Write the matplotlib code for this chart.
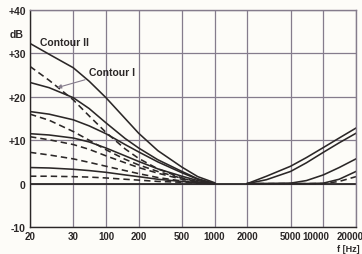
import numpy as np
import matplotlib
matplotlib.use('Agg')
import matplotlib.pyplot as plt
from matplotlib.transforms import ScaledTranslation

# frequency sample points (Hz)
freqs_low = [20, 30, 50, 70, 100, 150, 200, 300, 500, 700, 1000]
freqs_high = [2000, 3000, 5000, 7000, 10000, 14000, 20000]

# low-frequency boost curves (dB)
contour2 = [32.3, 29.8, 26.7, 23.6, 19.8, 15.0, 11.6, 7.6, 3.8, 1.6, 0.2]
low_solid = [
    [23.3, 22.1, 19.8, 17.3, 14.0, 10.4, 8.2, 5.5, 2.8, 1.1, 0.0],
    [16.6, 16.0, 14.7, 13.3, 11.5, 9.0, 7.3, 5.0, 2.5, 1.0, 0.0],
    [11.5, 11.2, 10.5, 9.6, 8.2, 6.4, 5.1, 3.4, 1.7, 0.7, 0.0],
    [3.7, 3.6, 3.3, 3.0, 2.6, 2.0, 1.6, 1.0, 0.5, 0.2, 0.0],
]
low_dashed = [
    [27.0, 23.8, 19.3, 15.6, 11.8, 8.0, 5.8, 3.4, 1.3, 0.4, 0.0],
    [16.0, 14.6, 12.0, 10.0, 7.8, 5.6, 4.3, 2.8, 1.2, 0.4, 0.0],
    [10.8, 10.1, 9.0, 7.9, 6.4, 4.8, 3.7, 2.4, 1.0, 0.3, 0.0],
    [7.2, 6.6, 5.7, 4.9, 4.0, 3.0, 2.3, 1.4, 0.6, 0.2, 0.0],
    [1.7, 1.7, 1.6, 1.5, 1.3, 1.0, 0.8, 0.5, 0.3, 0.1, 0.0],
]

# high-frequency boost curves (dB)
high_solid = [
    [0.0, 1.7, 4.0, 6.0, 8.3, 10.5, 12.8],
    [0.0, 0.9, 2.8, 4.8, 7.2, 9.4, 11.6],
    [0.0, 0.0, 0.1, 0.7, 2.0, 3.7, 5.7],
    [0.0, 0.0, 0.0, 0.0, 0.1, 1.0, 2.8],
]
high_dashed = [
    [0.0, 0.0, 0.0, 0.0, 0.0, 0.5, 1.6],
]

flat_freqs = [20, 20000]
flat_vals = [0, 0]

xticks = [20, 50, 100, 200, 500, 1000, 2000, 5000, 10000, 20000]
xlabels = ['20', '30', '100', '200', '500', '1000', '2000', '5000', '10000', '20000']
yticks = [-10, 0, 10, 20, 30, 40]
ylabels = ['-10', '0', '+10', '+20', '+30', '+40']

ink = '#2b2727'
grid_col = '#857c8c'
paper = '#fdfcf8'
font = ['Liberation Sans', 'DejaVu Sans']

fig = plt.figure(figsize=(3.62, 2.55), dpi=100)
fig.set_facecolor(paper)
ax = fig.add_axes([30 / 362, 1 - 228 / 255, 326 / 362, 217 / 255])
ax.set_facecolor(paper)

ax.set_xscale('log')
ax.set_xlim(20, 20000)
ax.set_ylim(-10, 40)

lw = 1.15
dash = (0, (4, 2.5))
ax.plot(freqs_low, contour2, color=ink, lw=lw)
for v in low_solid:
    ax.plot(freqs_low, v, color=ink, lw=lw)
for v in low_dashed:
    ax.plot(freqs_low, v, color=ink, lw=lw, linestyle=dash)
for v in high_solid:
    ax.plot(freqs_high, v, color=ink, lw=lw)
for v in high_dashed:
    ax.plot(freqs_high, v, color=ink, lw=lw, linestyle=dash)
ax.plot(flat_freqs, flat_vals, color=ink, lw=1.3)

ax.set_xticks(xticks)
ax.set_xticklabels(xlabels)
ax.set_xticks([], minor=True)
ax.set_yticks(yticks)
ax.set_yticklabels(ylabels)
ax.tick_params(axis='x', length=0, pad=3, colors=ink, labelsize=7)
ax.tick_params(axis='y', length=0, pad=3, colors=ink, labelsize=7.5)
for lab in ax.get_xticklabels() + ax.get_yticklabels():
    lab.set_family(font)
    lab.set_fontweight('bold')
# the five-digit labels sit a little left of their grid lines
xl = ax.get_xticklabels()
for lab, dx in [(xl[-2], -7), (xl[-1], -6)]:
    lab.set_transform(lab.get_transform() + ScaledTranslation(dx / 100, 0, fig.dpi_scale_trans))
ax.grid(True, color=grid_col, lw=0.9)
ax.set_axisbelow(True)
for s in ax.spines.values():
    s.set_color(ink)
    s.set_linewidth(1.0)
ax.spines['top'].set_color(grid_col)
ax.spines['right'].set_color(grid_col)

# annotations
ax.text(24.7, 32.6, 'Contour II', family=font, fontweight='bold', fontsize=7.5,
        color=ink, va='center')
ax.annotate('Contour I', xy=(35.5, 22.1), xytext=(70, 25.7), family=font,
            fontweight='bold', fontsize=7.5, color=ink, va='center',
            arrowprops=dict(arrowstyle='-|>', color=grid_col, lw=0.8,
                            shrinkA=1, shrinkB=0, mutation_scale=6))
fig.text(17 / 362, 1 - 35 / 255, 'dB', family=font, fontweight='bold',
         fontsize=7.5, color=ink, ha='center', va='center')
fig.text(360 / 362, 1 - 250 / 255, 'f [Hz]', family=font, fontweight='bold',
         fontsize=6.5, color=ink, ha='right', va='center')

plt.savefig('out.png', dpi=100, facecolor=paper)
